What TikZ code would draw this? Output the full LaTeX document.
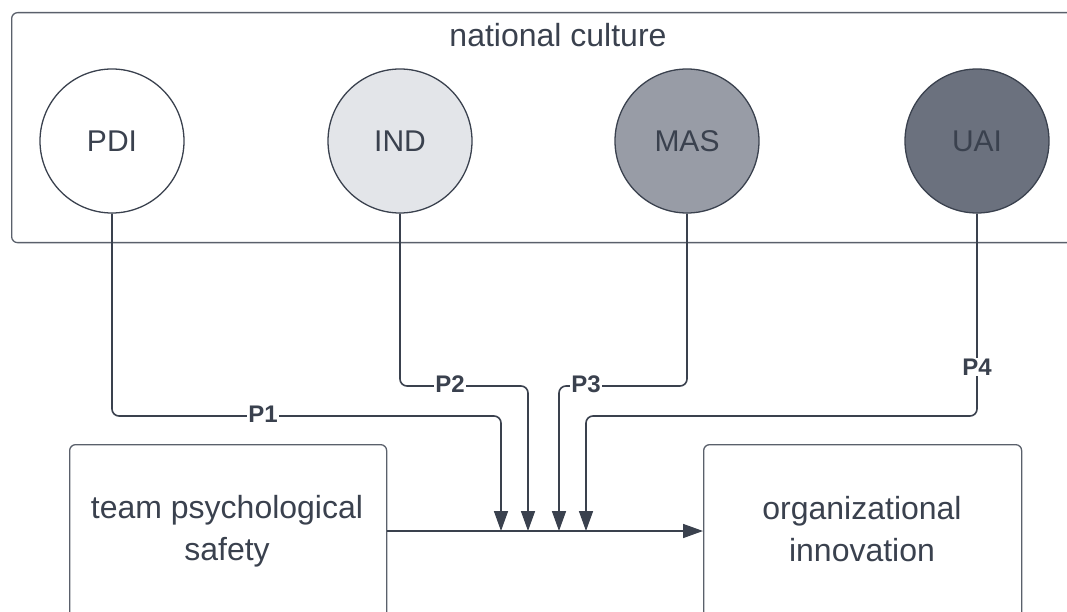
\documentclass[tikz,border=0pt]{standalone}
\usepackage{fontspec}
\setmainfont{Liberation Sans}
\usetikzlibrary{arrows.meta}
\definecolor{ink}{HTML}{3A414E}
\definecolor{frame}{HTML}{5A606B}
\definecolor{fillind}{HTML}{E3E5E9}
\definecolor{fillmas}{HTML}{989CA6}
\definecolor{filluai}{HTML}{6B717E}
\begin{document}
\begin{tikzpicture}[x=1pt,y=-1pt,
  framebox/.style={draw=frame, line width=1.3pt, rounded corners=6pt, anchor=north west, inner sep=0pt},
  circ/.style={circle, draw=ink, line width=1.3pt, minimum size=144pt, inner sep=0pt, text=ink, font=\fontsize{30}{36}\selectfont},
  bigtext/.style={text=ink, font=\fontsize{32}{42}\selectfont, align=center},
  conn/.style={draw=ink, line width=1.6pt, rounded corners=7pt},
  arr/.style={conn, -{Triangle[length=20pt,width=14pt]}},
  plabel/.style={fill=white, inner sep=1pt, text=ink, font=\fontsize{24}{26}\selectfont\bfseries}
]
\useasboundingbox (0,0) rectangle (1067,612);
\clip (0,0) rectangle (1067,612);

% outer frame
\node (nc) [framebox, minimum width=1080pt, minimum height=230pt] at (11,12) {};
\node (nclabel) [bigtext] at (558,35) {national culture};

% circles
\node (pdi) [circ, fill=white] at (112,141) {PDI};
\node (ind) [circ, fill=fillind] at (400,141) {IND};
\node (mas) [circ, fill=fillmas] at (687,141) {MAS};
\node (uai) [circ, fill=filluai] at (977,141) {UAI};

% bottom boxes
\node (tpsbox) [framebox, minimum width=317pt, minimum height=220pt] at (69,444) {};
\node (tps) [bigtext] at (227,531) {team psychological\\safety};
\node (oibox) [framebox, minimum width=318pt, minimum height=220pt] at (703,444) {};
\node (oi) [bigtext] at (862,529) {organizational\\innovation};

% main arrow
\coordinate (ml) at (0,531);
\draw[arr] (tpsbox.east |- ml) -- (oibox.west |- ml);

% arrow end points on main line
\coordinate (e1) at (501,531);
\coordinate (e2) at (528,531);
\coordinate (e3) at (559,531);
\coordinate (e4) at (586,531);

\draw[arr] (pdi.south) -- (112,416) -- (501,416) -- (e1);
\draw[arr] (ind.south) -- (400,386) -- (528,386) -- (e2);
\draw[arr] (mas.south) -- (687,386) -- (559,386) -- (e3);
\draw[arr] (uai.south) -- (977,416) -- (586,416) -- (e4);

\node (p1) [plabel] at (263,414) {P1};
\node (p2) [plabel] at (450,384) {P2};
\node (p3) [plabel] at (586,384) {P3};
\node (p4) [plabel] at (977,367) {P4};
\end{tikzpicture}
\end{document}
